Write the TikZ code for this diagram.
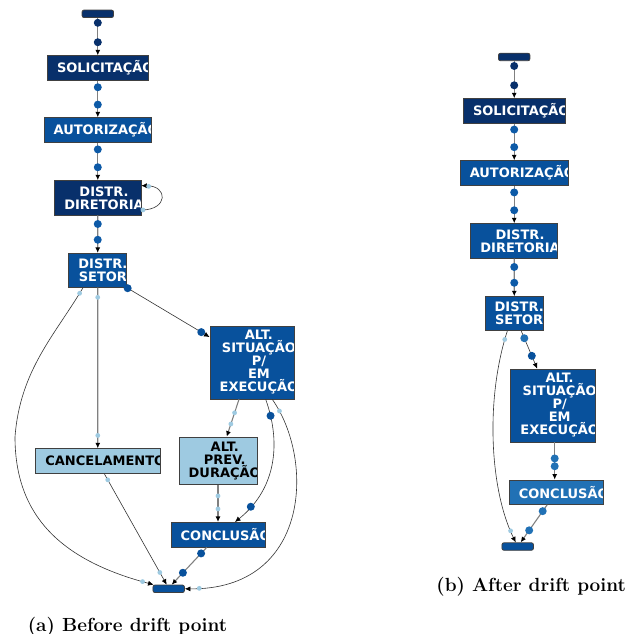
\documentclass[tikz,border=0pt]{standalone}
\usepackage{fontspec}
\newfontfamily\actfont{DejaVu Sans}
\usetikzlibrary{arrows.meta}
\definecolor{navy}{HTML}{08306B}
\definecolor{midblue}{HTML}{08519C}
\definecolor{dotblue}{HTML}{0D5AA7}
\definecolor{skyblue}{HTML}{2171B5}
\definecolor{paleblue}{HTML}{9ECAE1}
\tikzset{
  act/.style={draw=black!75, line width=0.8pt, inner sep=0pt, fill=#1},
  terminal/.style={act=#1, rounded corners=2pt, minimum width=31.5, minimum height=7.5},
  lbl/.style={anchor=west, inner sep=0pt, minimum width=0pt, minimum height=0pt, align=center,
      font=\actfont\bfseries\fontsize{13}{13}\selectfont},
  boxtext/.style={path picture={\node[lbl, text=white]
      at ([xshift=9.3pt]path picture bounding box.west) {#1};}},
  boxtext dark/.style={path picture={\node[lbl, text=black]
      at ([xshift=9.3pt]path picture bounding box.west) {#1};}},
  bigdot/.style={circle, fill=#1, inner sep=0pt, minimum size=8pt},
  lightdot/.style={circle, fill=paleblue, inner sep=0pt, minimum size=4.8pt},
  main/.style={draw=gray, line width=1.1pt, -{Latex[length=5.5pt,width=5pt,color=black]}},
  link/.style={draw=black!80, line width=0.6pt, -{Latex[length=5.5pt,width=5pt,color=black]}}
}
\begin{document}
\begin{tikzpicture}[x=1pt,y=-1pt]
    \useasboundingbox (0,0) rectangle (627,634);
    % before drift point
    \node[terminal=navy] (start1) at (97.8,13.8) {};
    \node[act=navy, minimum width=101, minimum height=25, boxtext={SOLICITAÇÃO}] (sol1) at (97.8,68.2) {};
    \node[act=midblue, minimum width=107.7, minimum height=25, boxtext={AUTORIZAÇÃO}] (aut1) at (97.8,130.2) {};
    \node[act=navy, minimum width=86.3, minimum height=34.3, boxtext={DISTR.\\DIRETORIA}] (dir1) at (97.8,197.8) {};
    \node[act=midblue, minimum width=58, minimum height=34, boxtext={DISTR.\\SETOR}] (set1) at (97.7,270.3) {};
    \node[act=midblue, minimum width=84.7, minimum height=73, boxtext={ALT.\\SITUAÇÃO\\P/\\EM\\EXECUÇÃO}] (alt1) at (252.3,362.5) {};
    \node[act=paleblue, minimum width=124.3, minimum height=24.6, boxtext dark={CANCELAMENTO}] (can1) at (97.8,461) {};
    \node[act=paleblue, minimum width=78, minimum height=47.3, boxtext dark={ALT.\\PREV.\\DURAÇÃO}] (prev1) at (218,460.7) {};
    \node[act=midblue, minimum width=94, minimum height=24.7, boxtext={CONCLUSÃO}] (con1) at (218,534.7) {};
    \node[terminal=midblue] (end1) at (168.7,588.8) {};

    \draw[main] (start1) -- (sol1) node[bigdot=navy, pos=.13] {} node[bigdot=navy, pos=.65] {};
    \draw[main] (sol1) -- (aut1) node[bigdot=dotblue, pos=.17] {} node[bigdot=dotblue, pos=.65] {};
    \draw[main] (aut1) -- (dir1) node[bigdot=dotblue, pos=.17] {} node[bigdot=dotblue, pos=.65] {};
    \draw[main] (dir1) -- (set1) node[bigdot=dotblue, pos=.23] {} node[bigdot=dotblue, pos=.65] {};
    \draw[link] ([yshift=-12.2pt]dir1.east) .. controls +(27,0) and +(27,0) .. ([yshift=12.1pt]dir1.east)
        node[lightdot, pos=.02] {} node[lightdot, pos=.9] {};
    \draw[main] (set1) -- (can1) node[lightdot, pos=.06] {} node[lightdot, pos=.92] {};
    \draw[link] (set1) -- (alt1) node[bigdot=midblue, pos=.01] {} node[bigdot=midblue, pos=.9] {};
    \draw[link] ([xshift=-14.7pt]set1.south) .. controls (55,335) and (20,370) .. (15,437)
        node[lightdot, pos=.04] {}
        .. controls (15,515) and (60,560) .. ([xshift=1pt]end1.north west)
        node[lightdot, pos=.96] {};
    \draw[main] ([xshift=-13.3pt]alt1.south) -- ([xshift=8.7pt]prev1.north)
        node[lightdot, pos=.36] {} node[lightdot, pos=.66] {};
    \draw[link] ([xshift=13.4pt]alt1.south) .. controls (282,445) and (275,490) .. ([xshift=17pt]con1.north)
        node[bigdot=midblue, pos=.12] {} node[bigdot=midblue, pos=.85] {};
    \draw[link] ([xshift=20pt]alt1.south) .. controls (315,460) and (310,590) .. (end1.east)
        node[lightdot, pos=.06] {} node[lightdot, pos=.96] {};
    \draw[main] (prev1) -- (con1) node[lightdot, pos=.3] {} node[lightdot, pos=.65] {};
    \draw[main] ([xshift=-11.3pt]con1.south) -- ([xshift=3pt]end1.north)
        node[bigdot=midblue, pos=.16] {} node[bigdot=midblue, pos=.68] {};
    \draw[link] ([xshift=6.5pt]can1.south) -- ([xshift=-2pt]end1.north)
        node[lightdot, pos=.055] {} node[lightdot, pos=.89] {};

    % after drift point
    \node[terminal=navy] (start2) at (514.2,57) {};
    \node[act=navy, minimum width=101.7, minimum height=24.6, boxtext={SOLICITAÇÃO}] (sol2) at (514.2,111) {};
    \node[act=midblue, minimum width=108.3, minimum height=25, boxtext={AUTORIZAÇÃO}] (aut2) at (514.2,173.2) {};
    \node[act=midblue, minimum width=87, minimum height=34.6, boxtext={DISTR.\\DIRETORIA}] (dir2) at (514.2,241) {};
    \node[act=midblue, minimum width=58.7, minimum height=34, boxtext={DISTR.\\SETOR}] (set2) at (514.3,313.7) {};
    \node[act=midblue, minimum width=85, minimum height=73, boxtext={ALT.\\SITUAÇÃO\\P/\\EM\\EXECUÇÃO}] (alt2) at (553.2,405.5) {};
    \node[act=skyblue, minimum width=94.3, minimum height=24.3, boxtext={CONCLUSÃO}] (con2) at (556.2,492.2) {};
    \node[terminal=midblue] (end2) at (517.7,546.5) {};

    \draw[main] (start2) -- (sol2) node[bigdot=navy, pos=.13] {} node[bigdot=navy, pos=.65] {};
    \draw[main] (sol2) -- (aut2) node[bigdot=dotblue, pos=.16] {} node[bigdot=dotblue, pos=.64] {};
    \draw[main] (aut2) -- (dir2) node[bigdot=dotblue, pos=.17] {} node[bigdot=dotblue, pos=.65] {};
    \draw[main] (dir2) -- (set2) node[bigdot=dotblue, pos=.22] {} node[bigdot=dotblue, pos=.64] {};
    \draw[link] ([xshift=7pt]set2.south) -- ([xshift=-16pt]alt2.north)
        node[bigdot=skyblue, pos=.19] {} node[bigdot=midblue, pos=.66] {};
    \draw[link] ([xshift=-7pt]set2.south) .. controls (485,400) and (490,490) .. ([xshift=-2pt]end2.north)
        node[lightdot, pos=.04] {} node[lightdot, pos=.93] {};
    \draw[main] ([xshift=1.5pt]alt2.south) -- ([xshift=-1.5pt]con2.north)
        node[bigdot=skyblue, pos=.43] {} node[bigdot=skyblue, pos=.64] {};
    \draw[main] ([xshift=-9pt]con2.south) -- ([xshift=3pt]end2.north)
        node[bigdot=skyblue, pos=.17] {} node[bigdot=skyblue, pos=.68] {};

    \node[anchor=base, font=\bfseries\fontsize{19}{23}\selectfont] (capa) at (127.5,631.7) {(a) Before drift point};
    \node[anchor=base, font=\bfseries\fontsize{19}{23}\selectfont] (capb) at (531.2,591.7) {(b) After drift point};
\end{tikzpicture}
\end{document}
